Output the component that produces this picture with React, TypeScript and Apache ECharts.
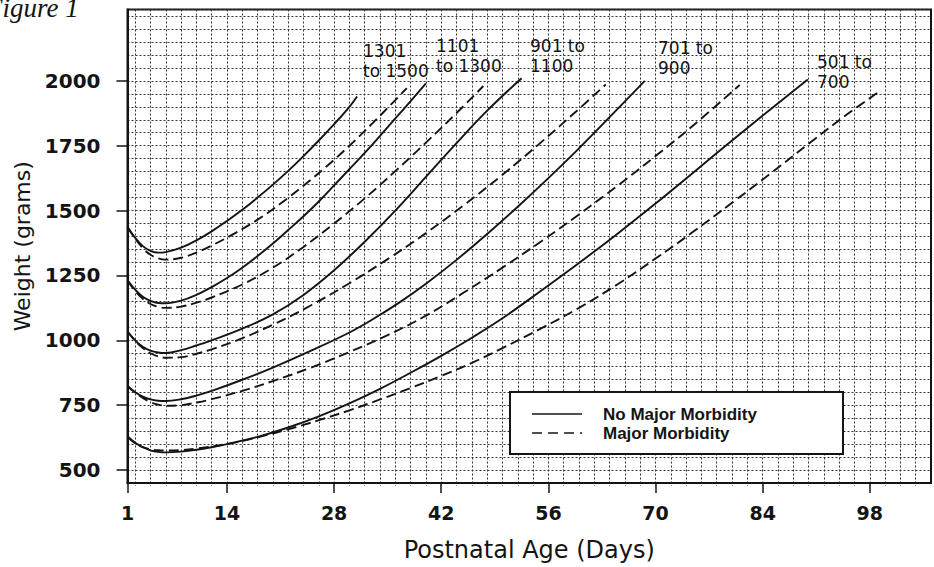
import React, { useEffect, useRef } from "react";
import * as echarts from "echarts";

// Axis ticks
const xTicks = [1, 14, 28, 42, 56, 70, 84, 98];
const yTicks = [500, 750, 1000, 1250, 1500, 1750, 2000];

// 1301 to 1500 g
const s1Days = [1, 2, 3, 4, 5, 6, 8, 10, 12, 14, 16, 18, 20, 22, 24, 26, 28, 30, 31];
const s1Weights = [1437, 1395, 1363, 1345, 1338, 1340, 1357, 1385, 1420, 1460, 1503, 1550, 1600, 1653, 1710, 1770, 1833, 1900, 1940];
const d1Days = [1, 2, 3, 4, 5, 6, 8, 10, 12, 15, 18, 21, 24, 27, 30, 33, 36, 37.5];
const d1Weights = [1437, 1392, 1355, 1330, 1316, 1311, 1318, 1338, 1365, 1412, 1465, 1527, 1596, 1670, 1750, 1836, 1926, 1972];

// 1101 to 1300 g
const s2Days = [1, 2, 3, 4, 5, 6, 8, 10, 12, 14, 16, 18, 20, 22, 24, 26, 28, 30, 32, 34, 36, 38, 40];
const s2Weights = [1231, 1195, 1168, 1152, 1144, 1143, 1153, 1175, 1205, 1240, 1280, 1325, 1373, 1425, 1478, 1535, 1597, 1660, 1722, 1788, 1855, 1922, 1990];
const d2Days = [1, 2, 3, 4, 5, 6, 8, 10, 12, 16, 20, 24, 28, 32, 36, 40, 44, 47.5];
const d2Weights = [1231, 1190, 1160, 1140, 1129, 1125, 1130, 1145, 1165, 1215, 1280, 1360, 1450, 1547, 1652, 1762, 1876, 1980];

// 901 to 1100 g
const s3Days = [1, 2, 3, 4, 5, 6, 8, 10, 12, 16, 20, 24, 28, 32, 36, 40, 44, 48, 52.5];
const s3Weights = [1034, 1000, 975, 960, 953, 951, 962, 980, 1000, 1045, 1100, 1175, 1270, 1380, 1500, 1630, 1760, 1885, 2010];
const d3Days = [1, 2, 3, 4, 5, 6, 8, 10, 12, 16, 20, 25, 30, 35, 40, 45, 50, 55, 60, 63.5];
const d3Weights = [1034, 998, 970, 950, 938, 933, 935, 948, 965, 1008, 1060, 1135, 1220, 1313, 1413, 1522, 1638, 1762, 1892, 1986];

// 701 to 900 g
const s4Days = [1, 2, 3, 4, 5, 6, 8, 10, 12, 16, 20, 25, 30, 33, 36.6, 40, 44, 48, 52, 56, 60, 64, 68.6];
const s4Weights = [824, 800, 783, 772, 767, 766, 773, 787, 805, 848, 895, 960, 1030, 1080, 1147, 1218, 1310, 1410, 1515, 1625, 1740, 1860, 2000];
const d4Days = [1, 2, 3, 4, 5, 6, 8, 10, 12, 16, 20, 25, 30, 35, 40, 45, 50, 55, 60, 65, 70, 75, 81];
const d4Weights = [824, 798, 778, 762, 752, 748, 750, 760, 773, 805, 843, 895, 955, 1020, 1095, 1185, 1280, 1380, 1485, 1595, 1710, 1830, 1984];

// 501 to 700 g
const s5Days = [1, 2, 3, 4, 5, 6, 8, 10, 12, 14, 18, 22, 26, 30, 34, 38, 42, 46, 50, 55, 60, 65, 70, 75, 80, 85, 89.9];
const s5Weights = [630, 605, 588, 576, 570, 568, 571, 578, 588, 600, 628, 664, 707, 757, 813, 875, 940, 1010, 1085, 1190, 1298, 1410, 1527, 1648, 1770, 1890, 2005];
const d5Days = [1, 2, 3, 4, 5, 6, 8, 10, 14, 18, 22, 26, 30, 34, 38, 42, 46, 50, 55, 60, 65, 70, 75, 80, 85, 90, 95, 99.3];
const d5Weights = [628, 603, 588, 580, 576, 575, 577, 583, 600, 626, 657, 692, 730, 772, 816, 863, 913, 970, 1045, 1125, 1215, 1315, 1420, 1530, 1642, 1757, 1870, 1960];

const groupLabels = ["1301\nto 1500", "1101\nto 1300", "901 to\n1100", "701 to\n900", "501 to\n700"];
const legendNames = ["No Major Morbidity", "Major Morbidity"];

const curves = [
  { name: legendNames[0], days: s1Days, w: s1Weights, dashed: false },
  { name: legendNames[1], days: d1Days, w: d1Weights, dashed: true },
  { name: legendNames[0], days: s2Days, w: s2Weights, dashed: false },
  { name: legendNames[1], days: d2Days, w: d2Weights, dashed: true },
  { name: legendNames[0], days: s3Days, w: s3Weights, dashed: false },
  { name: legendNames[1], days: d3Days, w: d3Weights, dashed: true },
  { name: legendNames[0], days: s4Days, w: s4Weights, dashed: false },
  { name: legendNames[1], days: d4Days, w: d4Weights, dashed: true },
  { name: legendNames[0], days: s5Days, w: s5Weights, dashed: false },
  { name: legendNames[1], days: d5Days, w: d5Weights, dashed: true },
];

const labelPos = [
  [363, 41],
  [436, 36],
  [530, 36],
  [658, 38],
  [817, 52],
];

export default function App() {
  const ref = useRef<HTMLDivElement>(null);
  useEffect(() => {
    document.body.style.margin = "0";
    const chart = echarts.init(ref.current!, null, { renderer: "svg" });
    const ink = "#141414";
    const gridInk = "#333333";
    const plotLeft = 127.5;
    const plotRight = 3;
    const xMin = 1;
    const xMax = 106;
    const dayPx = (934 - plotRight - plotLeft) / (xMax - xMin);
    const hidden = {
      axisLine: { show: false },
      axisTick: { show: false },
      axisLabel: { show: false },
    };
    const option: any = {
      animation: false,
      backgroundColor: "#ffffff",
      grid: [
        {
          left: plotLeft,
          right: plotRight,
          top: 9.5,
          bottom: 81,
          show: true,
          borderColor: ink,
          borderWidth: 2,
          backgroundColor: "transparent",
        },
        {
          left: plotLeft - dayPx,
          right: plotRight,
          top: 9.5,
          bottom: 81,
          show: false,
        },
      ],
      xAxis: [
        {
          type: "value",
          gridIndex: 0,
          min: xMin,
          max: xMax,
          name: "Postnatal Age (Days)",
          nameLocation: "middle",
          nameGap: 55,
          nameTextStyle: { fontFamily: "DejaVu Sans", fontSize: 24, color: ink },
          axisLine: { show: true, lineStyle: { color: ink, width: 2 } },
          axisTick: { show: true, customValues: xTicks, length: 10, lineStyle: { color: ink, width: 1.5 } },
          axisLabel: {
            customValues: xTicks,
            formatter: (v: number) => String(v),
            fontFamily: "DejaVu Sans",
            fontWeight: "bold",
            fontSize: 19,
            color: ink,
            margin: 20,
          },
          splitLine: { show: false },
          z: 3,
        },
        {
          type: "value",
          gridIndex: 1,
          min: 0,
          max: xMax,
          interval: 2,
          ...hidden,
          splitLine: {
            show: true,
            showMinLine: false,
            showMaxLine: false,
            lineStyle: { color: gridInk, type: [2, 2], width: 1 },
          },
          z: 1,
        },
      ],
      yAxis: [
        {
          type: "value",
          gridIndex: 0,
          min: 450,
          max: 2275,
          interval: 50,
          name: "Weight (grams)",
          nameLocation: "middle",
          nameGap: 94,
          nameTextStyle: { fontFamily: "DejaVu Sans", fontSize: 22, color: ink },
          axisLine: { show: true, lineStyle: { color: ink, width: 2 } },
          axisTick: { show: true, customValues: yTicks, length: 11, lineStyle: { color: ink, width: 1.5 } },
          axisLabel: {
            customValues: yTicks,
            formatter: (v: number) => String(v),
            fontFamily: "DejaVu Sans",
            fontWeight: "bold",
            fontSize: 20,
            color: ink,
            margin: 27,
          },
          splitLine: { show: false },
          z: 3,
        },
        {
          type: "value",
          gridIndex: 0,
          min: 450,
          max: 2275,
          interval: 50,
          position: "left",
          ...hidden,
          splitLine: {
            show: true,
            lineStyle: { color: gridInk, type: [2, 2], width: 1 },
          },
          z: 1,
        },
        {
          type: "value",
          gridIndex: 1,
          min: 450,
          max: 2275,
          ...hidden,
          splitLine: { show: false },
        },
      ],
      series: curves.map((c) => ({
        type: "line",
        name: c.name,
        xAxisIndex: 0,
        yAxisIndex: 0,
        data: c.days.map((d, i) => [d, c.w[i]]),
        symbol: "none",
        showSymbol: false,
        smooth: 0.4,
        silent: true,
        z: 5,
        lineStyle: { color: ink, width: 1.9, type: c.dashed ? [10, 5] : "solid" },
      })),
      graphic: [
        {
          type: "text",
          x: -14,
          y: -6,
          z: 100,
          style: {
            text: "Figure 1",
            font: "italic 27px 'Liberation Serif'",
            fill: ink,
            textVerticalAlign: "top",
          },
        },
        ...groupLabels.map((t, i) => ({
          type: "text",
          x: labelPos[i][0],
          y: labelPos[i][1],
          z: 100,
          style: {
            text: t,
            fontFamily: "DejaVu Sans",
            fontSize: 17,
            lineHeight: 20,
            fill: ink,
            textVerticalAlign: "top",
          },
        })),
        {
          type: "rect",
          z: 100,
          shape: { x: 510, y: 392, width: 333, height: 62 },
          style: { fill: "#ffffff", stroke: ink, lineWidth: 2 },
        },
        {
          type: "line",
          z: 101,
          shape: { x1: 532, y1: 414, x2: 582, y2: 414 },
          style: { stroke: ink, lineWidth: 1.3 },
        },
        {
          type: "line",
          z: 101,
          shape: { x1: 532, y1: 433, x2: 582, y2: 433 },
          style: { stroke: ink, lineWidth: 1.6, lineDash: [10, 6] },
        },
        {
          type: "text",
          x: 603,
          y: 414,
          z: 101,
          style: {
            text: legendNames[0],
            font: "bold 17px 'Liberation Sans'",
            fill: ink,
            textVerticalAlign: "middle",
          },
        },
        {
          type: "text",
          x: 603,
          y: 433,
          z: 101,
          style: {
            text: legendNames[1],
            font: "bold 17px 'Liberation Sans'",
            fill: ink,
            textVerticalAlign: "middle",
          },
        },
      ],
    };
    chart.setOption(option);
    return () => chart.dispose();
  }, []);
  return (
    <div
      ref={ref}
      style={{ position: "absolute", left: 0, top: 0, width: 934, height: 567 }}
    />
  );
}
